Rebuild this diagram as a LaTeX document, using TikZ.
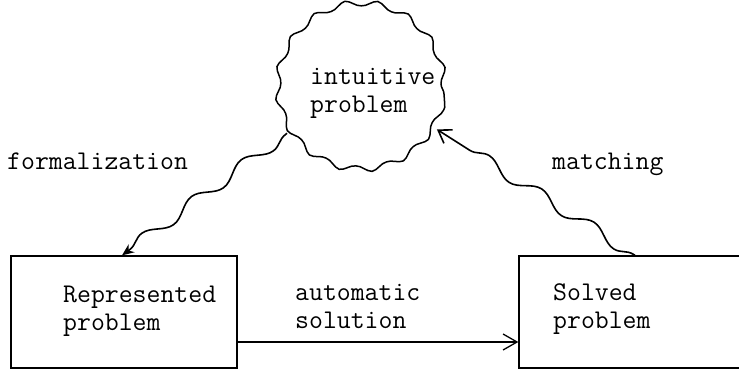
\documentclass[tikz,border=0pt]{standalone}
\usetikzlibrary{decorations.pathmorphing,arrows.meta}
\begin{document}
\begin{tikzpicture}[x=1pt,y=-1pt,
  lbl/.style={font=\ttfamily\fontsize{27}{28}\selectfont, inner sep=0pt, align=left, anchor=base west},
  boxshape/.style={draw, line width=1.3pt, rectangle, inner sep=0pt, minimum width=226pt, minimum height=112pt},
  cloudshape/.style={draw, circle, inner sep=0pt, minimum size=166pt, line width=1.5pt, decorate, decoration={snake, segment length=32pt, amplitude=3pt}},
  wavy/.style={line width=1.6pt, decorate, decoration={snake, segment length=62pt, amplitude=6pt, pre length=2pt, post length=9pt}},
]
\clip (0,0) rectangle (739,373);
\node[boxshape] (rep) at (124,312) {};
\node[boxshape] (sol) at (632,312) {};
\node[cloudshape] (cloud) at (361,94) {};
\node[lbl] (tintu) at (310,112) {intuitive\\problem};
\node[lbl] (trep) at (63,330) {Represented\\problem};
\node[lbl] (tsol) at (553,328) {Solved\\problem};
\node[lbl] (tauto) at (295,328) {automatic\\solution};
\node[lbl] (tform) at (7,169) {formalization};
\node[lbl] (tmatch) at (552,169) {matching};
\draw[line width=1.3pt, -{Straight Barb[length=14pt,width=16pt]}] ([yshift=-30pt]rep.east) -- ([yshift=-30pt]sol.west);
\draw[wavy, -{Stealth[length=12pt,width=10pt]}] (cloud.208) -- ([xshift=-2pt]rep.north);
\draw[wavy, -{Straight Barb[length=12pt,width=16pt]}] ([xshift=3pt]sol.north) -- (cloud.-25);
\end{tikzpicture}
\end{document}
